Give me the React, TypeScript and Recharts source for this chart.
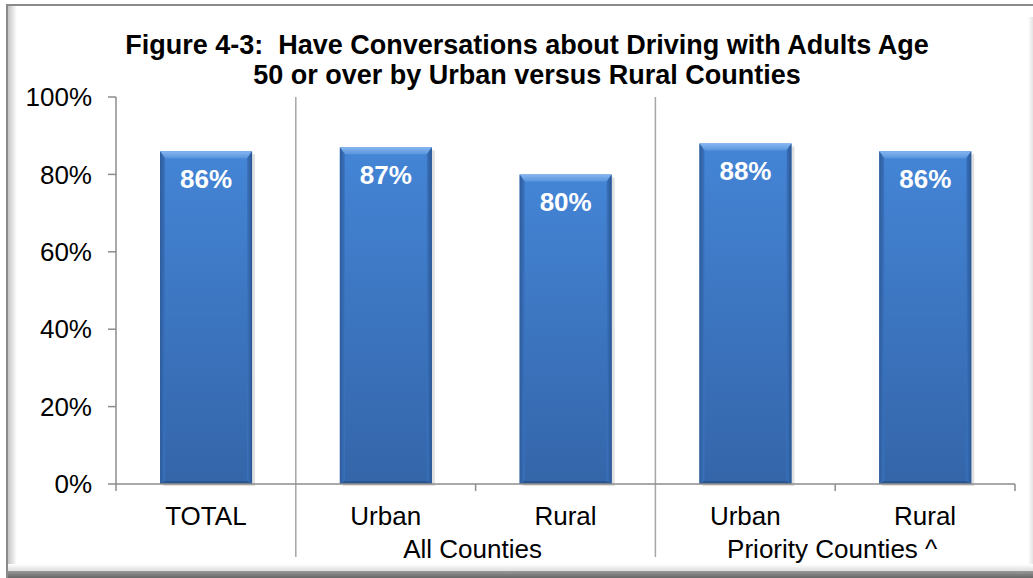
import React from "react";
import { BarChart, Bar, XAxis, YAxis, LabelList, ReferenceLine } from "recharts";

const categories = ["TOTAL", "Urban", "Rural", "Urban", "Rural"];
const groups = ["", "All Counties", "All Counties", "Priority Counties ^", "Priority Counties ^"];
const values = [86, 87, 80, 88, 86];
const yTicks = [0, 20, 40, 60, 80, 100];
const titleLines = [
  "Figure 4-3:  Have Conversations about Driving with Adults Age",
  "50 or over by Urban versus Rural Counties",
];

const FONT = "Arial, 'Liberation Sans', Helvetica, sans-serif";
const W = 1033;
const H = 578;

const data = categories.map((c, i) => ({
  key: `${i}|${groups[i]}|${c}`,
  label: c,
  group: groups[i],
  value: values[i],
}));

const labelOf: Record<string, string> = {};
data.forEach((d) => (labelOf[d.key] = d.label));

const BarShape = (props: any) => {
  const { x, y, width, height } = props;
  if (!height || height <= 0) return null;
  const b = 7;
  const s = 5;
  return (
    <g>
      <rect x={x + 3} y={y + 3} width={width} height={height - 1} fill="rgba(0,0,0,0.12)" />
      <rect x={x} y={y} width={width} height={height} fill="url(#barFace)" />
      <polygon
        points={`${x},${y} ${x + width},${y} ${x + width - s},${y + b} ${x + s},${y + b}`}
        fill="url(#barTop)"
      />
      <polygon
        points={`${x},${y} ${x + s},${y + b} ${x + s},${y + height - 3} ${x},${y + height}`}
        fill="url(#barLeft)"
      />
      <polygon
        points={`${x + width},${y} ${x + width - s},${y + b} ${x + width - s},${y + height - 3} ${x + width},${y + height}`}
        fill="url(#barRight)"
      />
      <polygon
        points={`${x},${y + height} ${x + s},${y + height - 3} ${x + width - s},${y + height - 3} ${x + width},${y + height}`}
        fill="#2c5690"
      />
    </g>
  );
};

const XTick = (props: any) => {
  const { x, y, payload } = props;
  return (
    <text x={x} y={y + 41} textAnchor="middle" fontSize={26} fontFamily={FONT} fill="#000">
      {labelOf[payload.value] ?? payload.value}
    </text>
  );
};

const boundaryShape = (kind: "tick" | "sep") => (props: any) => {
  const { x1, y1, y2 } = props;
  const top = Math.min(y1, y2);
  const bottom = Math.max(y1, y2);
  if (kind === "sep") {
    return <line x1={x1} x2={x1} y1={top} y2={bottom + 73} stroke="#a6a6a6" strokeWidth={1.5} />;
  }
  return <line x1={x1} x2={x1} y1={bottom} y2={bottom + 7} stroke="#8c8c8c" strokeWidth={1.5} />;
};

const groupLabelShape = (text: string) => (props: any) => {
  const { x1, y1, y2 } = props;
  const bottom = Math.max(y1, y2);
  return (
    <text x={x1 - 3} y={bottom + 74} textAnchor="middle" fontSize={26} fontFamily={FONT} fill="#000">
      {text}
    </text>
  );
};

// group spans
const groupSpans: { name: string; first: number; last: number }[] = [];
groups.forEach((g, i) => {
  if (!g) return;
  const last = groupSpans[groupSpans.length - 1];
  if (last && last.name === g) last.last = i;
  else groupSpans.push({ name: g, first: i, last: i });
});

export default function App() {
  const refs: React.ReactNode[] = [];
  refs.push(
    <ReferenceLine key="start" x={data[0].key} position="start" shape={boundaryShape("tick")} />
  );
  data.forEach((d, i) => {
    const isSep = i < data.length - 1 && groups[i] !== groups[i + 1];
    refs.push(
      <ReferenceLine
        key={`b${i}`}
        x={d.key}
        position="end"
        shape={boundaryShape(isSep ? "sep" : "tick")}
      />
    );
  });
  groupSpans.forEach((g) => {
    const count = g.last - g.first + 1;
    const mid = g.first + Math.floor((count - 1) / 2);
    refs.push(
      <ReferenceLine
        key={`g${g.name}`}
        x={data[mid].key}
        position={count % 2 === 0 ? "end" : "middle"}
        shape={groupLabelShape(g.name)}
      />
    );
  });

  return (
    <div
      style={{
        position: "absolute",
        left: 0,
        top: 0,
        width: W,
        height: H,
        background: "#fff",
        overflow: "hidden",
        fontFamily: FONT,
      }}
    >
      {/* frame */}
      <div style={{ position: "absolute", left: 6, top: 4, width: W - 6, height: 2, background: "#8a8a8a" }} />
      <div style={{ position: "absolute", left: 6, top: 4, width: 2, height: H - 4, background: "#8a8a8a" }} />
      <div
        style={{
          position: "absolute",
          left: 8,
          top: 6,
          width: 9,
          height: H - 20,
          background: "linear-gradient(to right, #c4c4c4, #f4f4f4 80%, #ffffff)",
        }}
      />
      <div
        style={{
          position: "absolute",
          left: 8,
          top: H - 14,
          width: W - 8,
          height: 7,
          background: "linear-gradient(to bottom, #ffffff, #dedede)",
        }}
      />
      <div
        style={{
          position: "absolute",
          left: 8,
          top: H - 7,
          width: W - 8,
          height: 7,
          background: "linear-gradient(to bottom, #9a9a9a, #666666)",
        }}
      />
      <div
        style={{
          position: "absolute",
          left: W - 5,
          top: 17,
          width: 5,
          height: H - 31,
          background: "linear-gradient(to right, #ffffff, #e4e4e4)",
        }}
      />
      {/* title */}
      <div
        style={{
          position: "absolute",
          left: 27,
          top: 30,
          width: 1000,
          textAlign: "center",
          fontSize: 27,
          fontWeight: "bold",
          lineHeight: "30px",
          color: "#000",
          fontFamily: FONT,
        }}
      >
        {titleLines.map((t, i) => (
          <div key={i} style={{ whiteSpace: "pre" }}>
            {t}
          </div>
        ))}
      </div>
      <div style={{ position: "absolute", left: 0, top: 0 }}>
        <BarChart
          width={W}
          height={H}
          data={data}
          margin={{ top: 97, right: 18, bottom: 64, left: 56 }}
          barCategoryGap="24.5%"
          style={{ fontFamily: FONT }}
        >
          <defs>
            <linearGradient id="barFace" x1="0" y1="0" x2="0" y2="1">
              <stop offset="0%" stopColor="#4485d6" />
              <stop offset="100%" stopColor="#3465a9" />
            </linearGradient>
            <linearGradient id="barTop" x1="0" y1="0" x2="0" y2="1">
              <stop offset="0%" stopColor="#86b6f0" />
              <stop offset="100%" stopColor="#5a95dd" />
            </linearGradient>
            <linearGradient id="barLeft" x1="0" y1="0" x2="1" y2="0">
              <stop offset="0%" stopColor="#2d5b9a" />
              <stop offset="100%" stopColor="#3a73bf" />
            </linearGradient>
            <linearGradient id="barRight" x1="0" y1="0" x2="1" y2="0">
              <stop offset="0%" stopColor="#3a73bf" />
              <stop offset="100%" stopColor="#2a5692" />
            </linearGradient>
          </defs>
          <XAxis
            dataKey="key"
            height={30}
            tickLine={false}
            tickSize={0}
            tickMargin={0}
            axisLine={{ stroke: "#8c8c8c", strokeWidth: 1.5 }}
            tick={<XTick />}
            interval={0}
          />
          <YAxis
            width={60}
            domain={[0, 100]}
            ticks={yTicks}
            tickFormatter={(v: number) => `${v}%`}
            axisLine={{ stroke: "#8c8c8c", strokeWidth: 1.5 }}
            tickLine={{ stroke: "#8c8c8c", strokeWidth: 1.5 }}
            tickSize={8}
            tickMargin={16}
            tick={{ fill: "#000", fontSize: 26, fontFamily: FONT }}
            interval={0}
          />
          <Bar dataKey="value" isAnimationActive={false} shape={<BarShape />}>
            <LabelList
              dataKey="value"
              position="insideTop"
              offset={18}
              formatter={(v: any) => `${v}%`}
              fill="#fff"
              fontSize={26}
              fontWeight="bold"
              fontFamily={FONT}
            />
          </Bar>
          {refs}
        </BarChart>
      </div>
    </div>
  );
}
